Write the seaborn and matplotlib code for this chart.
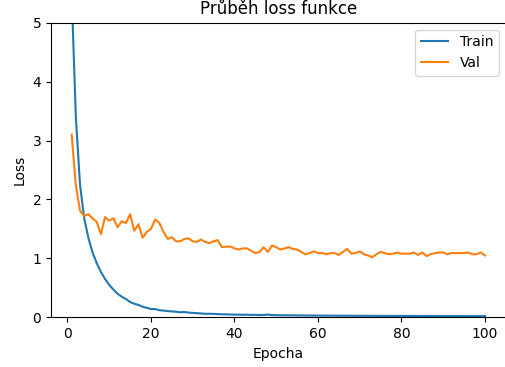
import matplotlib
matplotlib.use("Agg")
import matplotlib.pyplot as plt
import seaborn as sns
import pandas as pd

epochs = list(range(1, 101))

train_loss = [
    5.50, 3.40, 2.25, 1.68, 1.35, 1.10, 0.92, 0.77, 0.65, 0.55,
    0.47, 0.40, 0.35, 0.31, 0.26, 0.23, 0.21, 0.18, 0.16, 0.14,
    0.14, 0.12, 0.115, 0.105, 0.10, 0.095, 0.085, 0.09, 0.08, 0.075,
    0.07, 0.065, 0.06, 0.06, 0.058, 0.055, 0.05, 0.05, 0.048, 0.045,
    0.045, 0.042, 0.045, 0.04, 0.042, 0.038, 0.04, 0.046, 0.038, 0.036,
    0.035, 0.034, 0.034, 0.033, 0.032, 0.032, 0.031, 0.030, 0.030, 0.029,
    0.029, 0.028, 0.028, 0.028, 0.027, 0.027, 0.027, 0.026, 0.026, 0.026,
    0.025, 0.025, 0.025, 0.025, 0.024, 0.024, 0.024, 0.024, 0.023, 0.023,
    0.023, 0.023, 0.023, 0.022, 0.022, 0.022, 0.022, 0.022, 0.021, 0.021,
    0.021, 0.021, 0.021, 0.021, 0.020, 0.020, 0.020, 0.020, 0.020, 0.020,
]

val_loss = [
    3.10, 2.24, 1.81, 1.72, 1.75, 1.68, 1.62, 1.41, 1.70, 1.64,
    1.68, 1.53, 1.63, 1.60, 1.75, 1.47, 1.58, 1.35, 1.45, 1.50,
    1.66, 1.60, 1.45, 1.33, 1.36, 1.29, 1.29, 1.33, 1.34, 1.29,
    1.28, 1.32, 1.28, 1.26, 1.29, 1.31, 1.19, 1.20, 1.20, 1.17,
    1.15, 1.17, 1.17, 1.13, 1.09, 1.11, 1.19, 1.11, 1.22, 1.19,
    1.15, 1.17, 1.19, 1.16, 1.15, 1.11, 1.07, 1.09, 1.12, 1.09,
    1.09, 1.07, 1.09, 1.09, 1.06, 1.11, 1.16, 1.08, 1.09, 1.12,
    1.07, 1.05, 1.02, 1.07, 1.11, 1.09, 1.07, 1.08, 1.10, 1.08,
    1.08, 1.08, 1.10, 1.06, 1.10, 1.04, 1.07, 1.09, 1.10, 1.10,
    1.07, 1.09, 1.09, 1.09, 1.09, 1.10, 1.07, 1.07, 1.10, 1.05,
]

series_names = ["Train", "Val"]

df = pd.DataFrame({
    "Epocha": epochs * 2,
    "Loss": train_loss + val_loss,
    "Série": [series_names[0]] * len(epochs) + [series_names[1]] * len(epochs),
})

fig = plt.figure(figsize=(5.06, 3.67), dpi=100)
ax = fig.add_axes([0.1008, 0.1354, 0.8984, 0.8027])

sns.lineplot(data=df, x="Epocha", y="Loss", hue="Série",
             palette=["#1f77b4", "#ff7f0e"], linewidth=1.5, ax=ax)

ax.set_ylim(0, 5)
ax.set_xticks([0, 20, 40, 60, 80, 100])
ax.set_title("Průběh loss funkce")
ax.set_xlabel("Epocha")
ax.set_ylabel("Loss")
ax.legend(title=None, loc="upper right")

fig.savefig("out.png", dpi=100)
